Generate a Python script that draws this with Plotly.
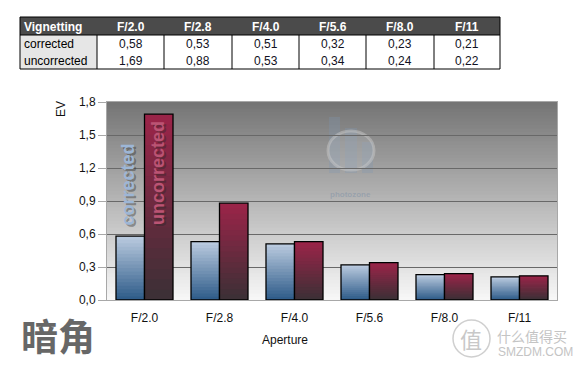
import plotly.graph_objects as go

# ---------------- data ----------------
categories = ["F/2.0", "F/2.8", "F/4.0", "F/5.6", "F/8.0", "F/11"]
corrected = [0.58, 0.53, 0.51, 0.32, 0.23, 0.21]
uncorrected = [1.69, 0.88, 0.53, 0.34, 0.24, 0.22]
series_names = ["corrected", "uncorrected"]
table_title = "Vignetting"
y_ticks = [0.0, 0.3, 0.6, 0.9, 1.2, 1.5, 1.8]

W, H = 582, 367
FONT = "Liberation Sans, Arial, sans-serif"


def px(x):
    return x / W


def py(y):
    return 1 - y / H


def lerp_color(c1, c2, t):
    a = [int(c1[i:i + 2], 16) for i in (1, 3, 5)]
    b = [int(c2[i:i + 2], 16) for i in (1, 3, 5)]
    return "rgb(%d,%d,%d)" % tuple(round(a[k] + (b[k] - a[k]) * t) for k in range(3))


def fmt(v):
    return ("%.2f" % v).replace(".", ",")


def note(text, x, y, size=12, color="#111111", family=FONT, xanchor="center", angle=0):
    return dict(text=text, xref="paper", yref="paper", x=px(x), y=py(y),
                xanchor=xanchor, yanchor="middle", textangle=angle, showarrow=False,
                font=dict(family=family, size=size, color=color))


fig = go.Figure()

# --- bars with vertical gradient built from slices of each value ---
N = 18
grad = {
    "corrected": ("#2c5a88", "#bccce0"),
    "uncorrected": ("#3a3035", "#9c2449"),
}
for name, vals in zip(series_names, [corrected, uncorrected]):
    lo, hi = grad[name]
    for i in range(N):
        ext = 1.6 if i < N - 1 else 1.0
        fig.add_trace(go.Bar(
            x=categories,
            y=[v / N * ext for v in vals],
            base=[v * i / N for v in vals],
            offsetgroup=name,
            marker=dict(color=lerp_color(lo, hi, (i + 0.5) / N), line=dict(width=0)),
            showlegend=False, hoverinfo="skip",
        ))
    # outline
    fig.add_trace(go.Bar(
        x=categories, y=vals, offsetgroup=name, name=name,
        marker=dict(color="rgba(0,0,0,0)", line=dict(color="#000000", width=1.3)),
        showlegend=False,
    ))

# --- plot-area background gradient ---
shapes = []
NB = 60
top = y_ticks[-1]
for i in range(NB):
    shapes.append(dict(
        type="rect", xref="x domain", yref="y",
        x0=0, x1=1, y0=top * i / NB, y1=min(top, top * (i + 1.8) / NB),
        fillcolor=lerp_color("#f8f8f8", "#747474", (i + 0.5) / NB),
        line=dict(width=0), layer="below",
    ))

# --- faint "photozone" logo in background ---
logo_fill = "rgba(125,150,180,0.28)"
for (x0, x1, y0, y1) in [(329, 340, 117, 173), (345, 357, 128, 173), (362, 373, 142, 173)]:
    shapes.append(dict(type="rect", xref="paper", yref="paper",
                       x0=px(x0), x1=px(x1), y0=py(y1), y1=py(y0),
                       fillcolor=logo_fill, line=dict(width=0), layer="below"))
shapes.append(dict(type="circle", xref="paper", yref="paper",
                   x0=px(328), x1=px(374), y0=py(170), y1=py(131),
                   fillcolor="rgba(210,215,220,0.18)",
                   line=dict(color="rgba(205,205,205,0.45)", width=3), layer="below"))

# --- table ---
cols = [20, 97, 164, 232, 299, 366, 434, 500]
rows = [17, 35, 69]
shapes.append(dict(type="rect", xref="paper", yref="paper",
                   x0=px(cols[0]), x1=px(cols[-1]), y0=py(rows[0]), y1=py(rows[1]),
                   fillcolor="#4b4b4b", line=dict(width=0)))
shapes.append(dict(type="rect", xref="paper", yref="paper",
                   x0=px(cols[0]), x1=px(cols[1]), y0=py(rows[1]), y1=py(rows[2]),
                   fillcolor="#e6e6e6", line=dict(width=0)))
shapes.append(dict(type="rect", xref="paper", yref="paper",
                   x0=px(cols[0]), x1=px(cols[-1]), y0=py(rows[0]), y1=py(rows[2]),
                   fillcolor="rgba(0,0,0,0)", line=dict(color="#000000", width=1)))
shapes.append(dict(type="line", xref="paper", yref="paper",
                   x0=px(cols[0]), x1=px(cols[-1]), y0=py(rows[1]), y1=py(rows[1]),
                   line=dict(color="#000000", width=1.2)))
for c in cols[1:-1]:
    shapes.append(dict(type="line", xref="paper", yref="paper",
                       x0=px(c), x1=px(c), y0=py(rows[1]), y1=py(rows[2]),
                       line=dict(color="#000000", width=1)))

annotations = []
annotations.append(note("<b>%s</b>" % table_title, cols[0] + 2, 26.5, color="#ffffff", xanchor="left"))
for j, cat in enumerate(categories):
    cx = (cols[j + 1] + cols[j + 2]) / 2
    annotations.append(note("<b>%s</b>" % cat, cx, 26.5, color="#ffffff"))
for r, (name, vals) in enumerate(zip(series_names, [corrected, uncorrected])):
    ry = 44 + r * 17
    annotations.append(note(name, cols[0] + 2, ry, color="#000000", xanchor="left"))
    for j, v in enumerate(vals):
        cx = (cols[j + 1] + cols[j + 2]) / 2
        annotations.append(note(fmt(v), cx, ry, color="#111122"))

# --- series labels inside first bars ---
label_specs = [
    (series_names[0], 1.045, -16, "#9db6d6"),
    (series_names[1], 1.15, 13, "#bb5474"),
]
for text, yv, xs, col in label_specs:
    annotations.append(dict(text="<b>%s</b>" % text, x=categories[0], y=yv, xref="x", yref="y",
                            xshift=xs + 2, yshift=-2, textangle=-90, showarrow=False,
                            font=dict(family=FONT, size=18, color="rgba(40,40,40,0.40)")))
    annotations.append(dict(text="<b>%s</b>" % text, x=categories[0], y=yv, xref="x", yref="y",
                            xshift=xs, textangle=-90, showarrow=False,
                            font=dict(family=FONT, size=18, color=col)))

# --- axis titles ---
annotations.append(note("EV", 61, 109, angle=-90))
annotations.append(note("Aperture", 285, 340))

# --- watermark texts ---
annotations.append(note("<b>photozone</b>", 350, 194, size=8, color="rgba(120,140,165,0.45)"))
annotations.append(note("<b>暗角</b>", 58, 335, size=37, color="#676767", family="Noto Sans CJK SC"))
annotations.append(note("值", 471, 338, size=22, color="#c8c8c8", family="Noto Sans CJK SC"))
shapes.append(dict(type="circle", xref="paper", yref="paper",
                   x0=px(453), x1=px(490), y0=py(357), y1=py(320),
                   line=dict(color="#cfcfcf", width=1.5)))
annotations.append(note("什么值得买", 495, 336, size=14, color="#c4c4c4",
                        family="Noto Sans CJK SC", xanchor="left"))
annotations.append(note("SMZDM.COM", 496, 352, size=12, color="#c4c4c4", xanchor="left"))

fig.update_layout(
    width=W, height=H,
    margin=dict(l=0, r=0, t=0, b=0, pad=0, autoexpand=False),
    paper_bgcolor="#ffffff", plot_bgcolor="#ffffff",
    barmode="group", bargap=0.24, bargroupgap=0,
    separators=",.",
    shapes=shapes, annotations=annotations,
    xaxis=dict(domain=[px(107), px(557)], type="category", automargin=False,
               showline=True, linecolor="#a8a8a8", mirror=True,
               ticks="outside", ticklen=7, tickcolor="rgba(0,0,0,0)",
               tickfont=dict(family=FONT, size=12, color="#111111"),
               showgrid=False),
    yaxis=dict(domain=[py(300), py(102)], range=[0, y_ticks[-1]], automargin=False,
               tickvals=y_ticks, tickformat=".1f",
               showline=True, linecolor="#a8a8a8", mirror=True,
               ticks="outside", ticklen=8, tickcolor="#a8a8a8",
               gridcolor="#686868", gridwidth=1, zeroline=False,
               tickfont=dict(family=FONT, size=12, color="#111111")),
)

fig.write_html(
    "out.html",
    config={"displayModeBar": False},
    post_script="document.body.style.margin='0';document.body.style.overflow='hidden';",
)
